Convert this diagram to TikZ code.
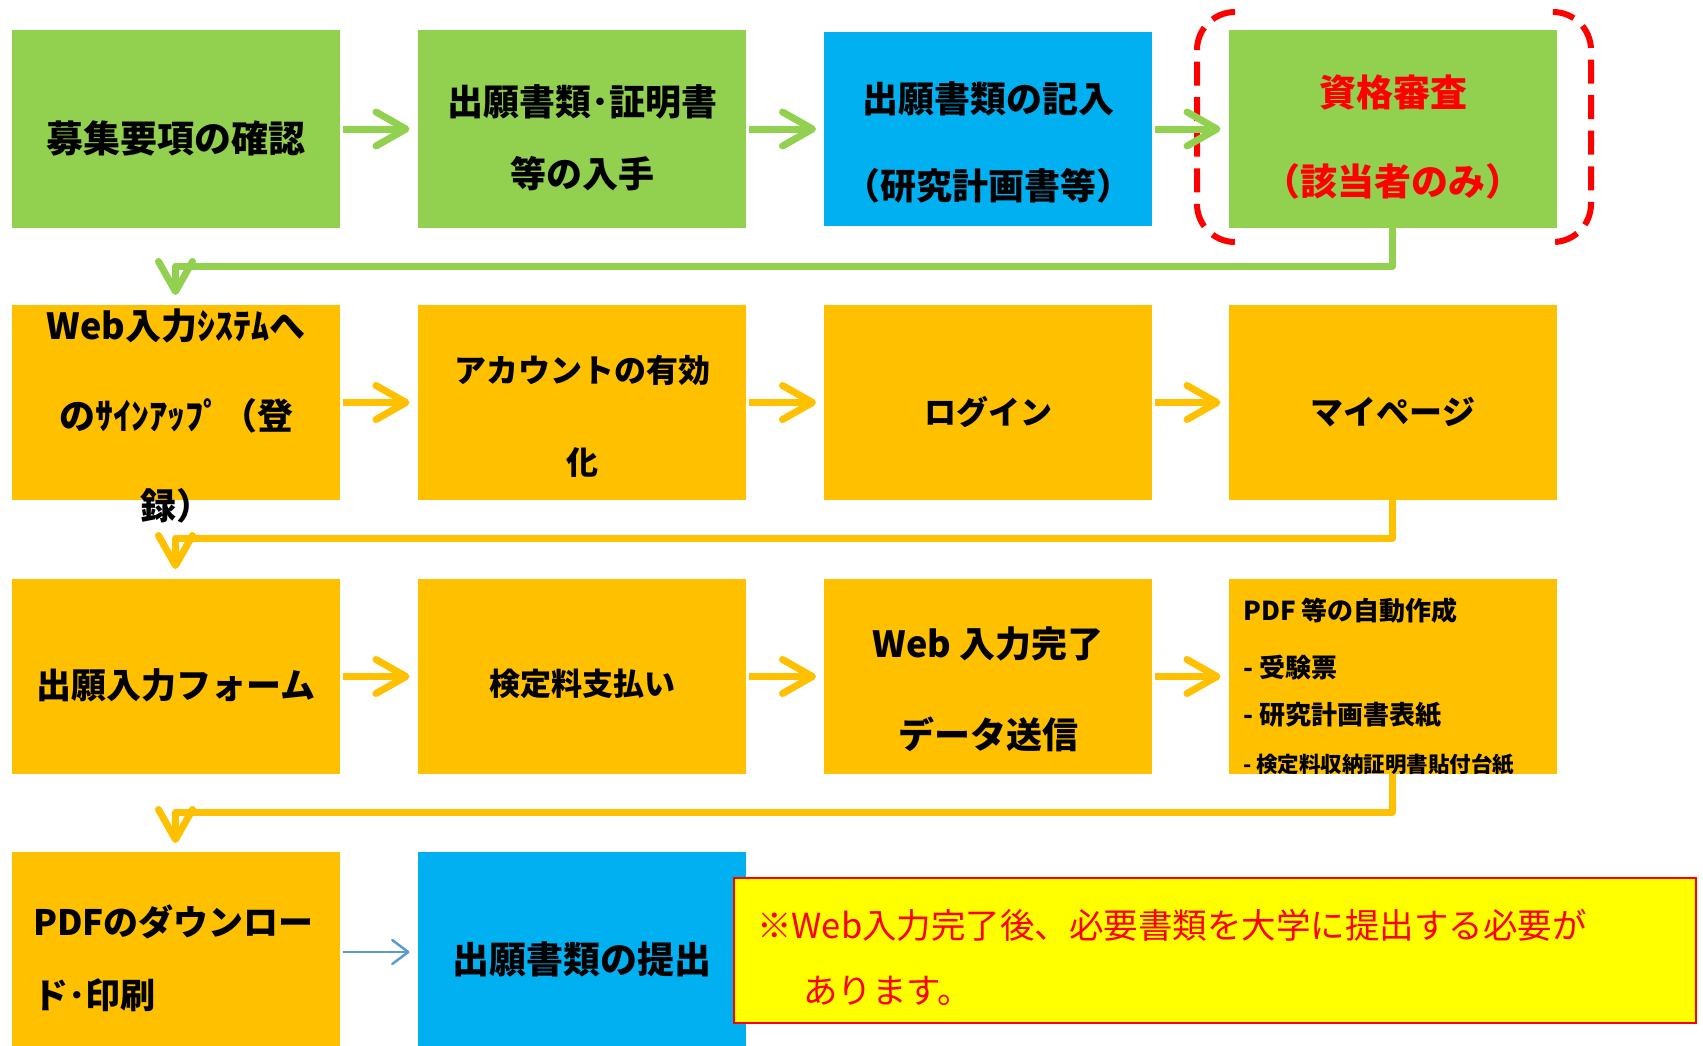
\documentclass[tikz,border=0pt]{standalone}
\usepackage{fontspec}
\setmainfont{Noto Sans CJK JP}
\usetikzlibrary{arrows.meta,calc}
\definecolor{cgreen}{HTML}{92D050}
\definecolor{corange}{HTML}{FFC000}
\definecolor{cblue}{HTML}{00B0F0}
\definecolor{cyellow}{HTML}{FFFF00}
\definecolor{cred}{HTML}{FF0000}
\definecolor{cthin}{HTML}{5B9BD5}
\begin{document}
\begin{tikzpicture}[x=1pt,y=-1pt,
  box/.style={rectangle,inner sep=0pt,outer sep=0pt,anchor=north west,minimum width=328pt,minimum height=195pt},
  gbox/.style={box,fill=cgreen},
  obox/.style={box,fill=corange},
  bbox/.style={box,fill=cblue},
  lbl/.style={inner sep=0pt,align=center},
  fat/.style={line width=7pt,line join=round,-{Straight Barb[length=30pt,width=34pt,round]}},
  thin/.style={line width=2.5pt,cthin,-{Straight Barb[length=16pt,width=24pt,round]}},
  bracket/.style={cred,line width=6pt,dash pattern=on 24pt off 11.6pt,rounded corners=38pt}
]
\useasboundingbox (0,0) rectangle (1703,1045);

% row 1
\node[gbox,minimum height=198pt] (b11) at (11.5,30) {};
\node[gbox,minimum height=198pt] (b12) at (417.5,30) {};
\node[bbox,minimum height=194pt] (b13) at (824,32) {};
\node[gbox,minimum height=198pt] (b14) at (1228.5,30) {};
% row 2
\node[obox] (b21) at (11.5,305) {};
\node[obox] (b22) at (417.5,305) {};
\node[obox] (b23) at (824,305) {};
\node[obox] (b24) at (1228.5,305) {};
% row 3
\node[obox] (b31) at (11.5,579) {};
\node[obox] (b32) at (417.5,579) {};
\node[obox] (b33) at (824,579) {};
\node[obox] (b34) at (1228.5,579) {};
% row 4
\node[obox,minimum height=200pt] (b41) at (11.5,852) {};
\node[bbox,minimum height=200pt] (b42) at (417.5,852) {};
\node[box,fill=cyellow,draw=cred,line width=2pt,minimum width=962pt,minimum height=145pt] (note) at (734,878) {};

% selection brackets
\draw[bracket] (1235,12) -- (1197,12) -- (1197,242) -- (1235,242);
\draw[bracket] (1555,12) -- (1591,12) -- (1591,242) -- (1555,242);

% texts
\node[lbl,font=\bfseries\fontsize{37}{37}\selectfont] (t11) at (176,138) {募集要項の確認};
\node[lbl,font=\bfseries\fontsize{36}{72}\selectfont] (t12) at (582,138) {出願書類･証明書\\等の入手};
\node[lbl,font=\bfseries\fontsize{36}{87}\selectfont] (t13) at (988,142.5) {出願書類の記入\\（研究計画書等）};
\node[lbl,text=cred,font=\bfseries\fontsize{37}{89}\selectfont] (t14) at (1393,137.5) {資格審査\\（該当者のみ）};

\node[lbl,font=\bfseries\fontsize{36}{90}\selectfont] (t21) at (176,416) {Web入力ｼｽﾃﾑへ\\のｻｲﾝｱｯﾌﾟ（登\\録）};
\node[lbl,font=\bfseries\fontsize{32}{92}\selectfont] (t22) at (582,416) {アカウントの有効\\化};
\node[lbl,font=\bfseries\fontsize{32}{32}\selectfont] (t23) at (988,412) {ログイン};
\node[lbl,font=\bfseries\fontsize{33}{33}\selectfont] (t24) at (1393,412) {マイページ};

\node[lbl,font=\bfseries\fontsize{35}{35}\selectfont] (t31) at (176,685) {出願入力フォーム};
\node[lbl,font=\bfseries\fontsize{31}{31}\selectfont] (t32) at (582,684) {検定料支払い};
\node[lbl,font=\bfseries\fontsize{36}{91}\selectfont] (t33) at (988,689.5) {Web 入力完了\\データ送信};
\node[lbl,anchor=west,font=\bfseries\fontsize{26}{26}\selectfont] (t34a) at (1243,611) {PDF 等の自動作成};
\node[lbl,anchor=west,font=\bfseries\fontsize{26}{26}\selectfont] (t34b) at (1243,668) {- 受験票};
\node[lbl,anchor=west,font=\bfseries\fontsize{26}{26}\selectfont] (t34c) at (1243,715) {- 研究計画書表紙};
\node[lbl,anchor=west,font=\bfseries\fontsize{21.5}{21.5}\selectfont] (t34d) at (1243,765) {- 検定料収納証明書貼付台紙};

\node[lbl,anchor=west,align=left,font=\bfseries\fontsize{35}{73}\selectfont] (t41) at (33,958.5) {PDFのダウンロー\\ド･印刷};
\node[lbl,font=\bfseries\fontsize{37}{37}\selectfont] (t42) at (582,959) {出願書類の提出};
\node[lbl,anchor=west,align=left,text=cred,font=\fontsize{34.5}{65}\selectfont] (tn) at (757,957.5) {※Web入力完了後、必要書類を大学に提出する必要が\\\hspace*{46pt}あります。};

% arrows row 1
\draw[fat,cgreen,shorten <=3pt,shorten >=8pt] (b11.east) -- (b12.west);
\draw[fat,cgreen,shorten <=3pt,shorten >=8pt] (b12.east) -- (b13.west);
\draw[fat,cgreen,shorten <=3pt,shorten >=8pt] (b13.east) -- (b14.west);
\draw[fat,cgreen,shorten >=10pt] (b14.south) -- ++(0,38) -| (b21.north);
% row 2
\draw[fat,corange,shorten <=3pt,shorten >=8pt] (b21.east) -- (b22.west);
\draw[fat,corange,shorten <=3pt,shorten >=8pt] (b22.east) -- (b23.west);
\draw[fat,corange,shorten <=3pt,shorten >=8pt] (b23.east) -- (b24.west);
\draw[fat,corange,shorten >=10pt] (b24.south) -- ++(0,38) -| (b31.north);
% row 3
\draw[fat,corange,shorten <=3pt,shorten >=8pt] (b31.east) -- (b32.west);
\draw[fat,corange,shorten <=3pt,shorten >=8pt] (b32.east) -- (b33.west);
\draw[fat,corange,shorten <=3pt,shorten >=8pt] (b33.east) -- (b34.west);
\draw[fat,corange,shorten >=9pt] (b34.south) -- ++(0,38) -| (b41.north);
% row 4
\draw[thin,shorten <=3pt,shorten >=8pt] (b41.east) -- (b42.west);
\end{tikzpicture}
\end{document}
